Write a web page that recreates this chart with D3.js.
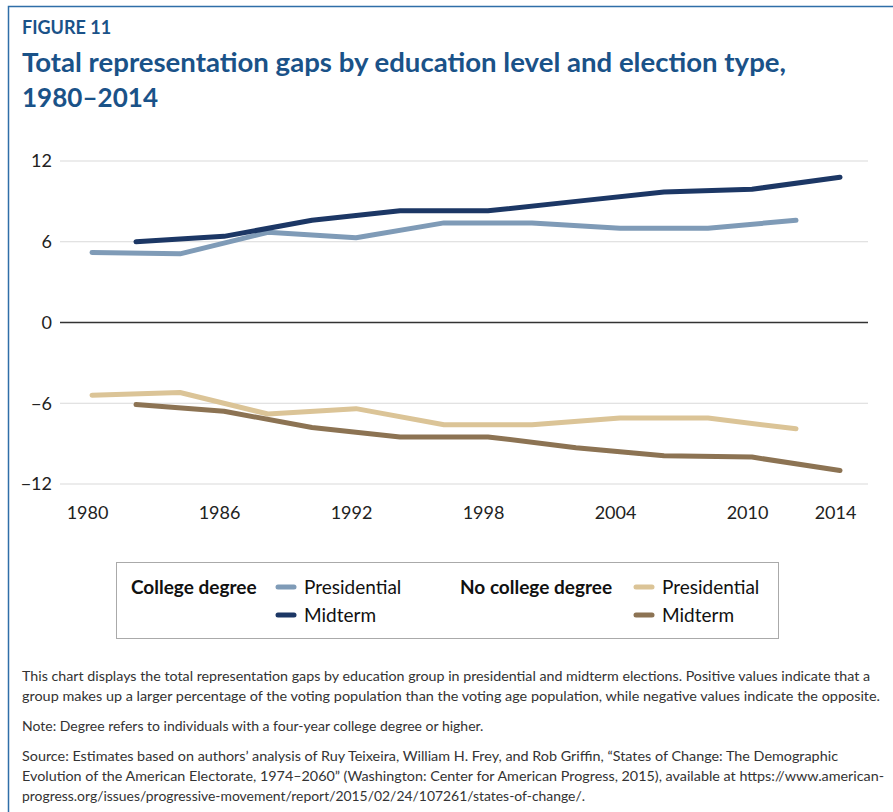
<!DOCTYPE html>
<html><head><meta charset="utf-8">
<script src="https://cdn.jsdelivr.net/npm/d3@7"></script>
<style>
body{margin:0;background:#fff;}
svg{display:block;font-family:Lato,"Open Sans",sans-serif;}
</style></head>
<body>
<svg id="chart" width="893" height="812"></svg>
<script>
const presYears = [1980,1984,1988,1992,1996,2000,2004,2008,2012];
const midYears  = [1982,1986,1990,1994,1998,2002,2006,2010,2014];
const collegePres = [5.2,5.1,6.7,6.3,7.4,7.4,7.0,7.0,7.6];
const collegeMid  = [6.0,6.4,7.6,8.3,8.3,9.0,9.7,9.9,10.8];
const noCollegePres = [-5.4,-5.2,-6.8,-6.4,-7.6,-7.6,-7.1,-7.1,-7.9];
const noCollegeMid  = [-6.1,-6.6,-7.8,-8.5,-8.5,-9.3,-9.9,-10.0,-11.0];
const xTicks = [1980,1986,1992,1998,2004,2010,2014];
const yTicks = [-12,-6,0,6,12];

const titleColor = "#1a5288";
const svg = d3.select("#chart");

// frame
svg.append("path").attr("d","M8.5,812 V6.5 H893").attr("fill","none")
  .attr("stroke","#2f6ea8").attr("stroke-width",1.5);

svg.append("text").attr("x",22).attr("y",34).text("FIGURE 11")
  .attr("fill",titleColor).attr("font-weight",700).attr("font-size",18);
svg.append("text").attr("x",22).attr("y",72).text("Total representation gaps by education level and election type,")
  .attr("fill",titleColor).attr("font-weight",700).attr("font-size",27)
  .attr("textLength",764).attr("lengthAdjust","spacingAndGlyphs");
svg.append("text").attr("x",22).attr("y",107).text("1980–2014")
  .attr("fill",titleColor).attr("font-weight",700).attr("font-size",27)
  .attr("textLength",136).attr("lengthAdjust","spacingAndGlyphs");

const x = d3.scaleLinear().domain([1980,2014]).range([92,840]);
const y = d3.scaleLinear().domain([-12,12]).range([484,161]);
const plotL = 60, plotR = 868;

// y axis labels
const yAxis = d3.axisLeft(y).tickValues(yTicks).tickSize(0).tickPadding(10).tickFormat(d3.format("d"));
const gy = svg.append("g").attr("transform",`translate(${plotL},0)`).call(yAxis);
gy.select(".domain").remove();
gy.selectAll("text").attr("font-size",18).attr("fill","#222").attr("font-family","Lato,sans-serif")
  .attr("text-anchor","end").attr("x",-8);
// gridlines
svg.append("g").selectAll("line").data(yTicks).join("line")
  .attr("x1",plotL).attr("x2",plotR).attr("y1",d=>y(d)).attr("y2",d=>y(d))
  .attr("stroke",d=>d===0?"#333":"#d9d9d9").attr("stroke-width",d=>d===0?1.3:1.2);

// x axis labels
const xAxis = d3.axisBottom(x).tickValues(xTicks).tickSize(0).tickPadding(0).tickFormat(d3.format("d"));
const gx = svg.append("g").attr("transform","translate(-5,506)").call(xAxis);
gx.select(".domain").remove();
gx.selectAll("text").attr("font-size",18).attr("fill","#222").attr("font-family","Lato,sans-serif");

const series = [
  {years:presYears, vals:collegePres, color:"#7f9bb7"},
  {years:midYears, vals:collegeMid, color:"#1c3765"},
  {years:presYears, vals:noCollegePres, color:"#dbc497"},
  {years:midYears, vals:noCollegeMid, color:"#8c7353"}
];
const line = d3.line().x(d=>x(d[0])).y(d=>y(d[1]));
svg.append("g").selectAll("path").data(series).join("path")
  .attr("d",s=>line(s.years.map((yr,i)=>[yr,s.vals[i]])))
  .attr("fill","none").attr("stroke",s=>s.color).attr("stroke-width",5)
  .attr("stroke-linecap","round").attr("stroke-linejoin","round");

// legend
const lg = svg.append("g");
lg.append("rect").attr("x",116.5).attr("y",562.5).attr("width",662).attr("height",76)
  .attr("fill","#fff").attr("stroke","#aaa").attr("stroke-width",1);
const legItems = [
  {head:"College degree", hx:131, sx:278, items:[["Presidential","#7f9bb7"],["Midterm","#1c3765"]]},
  {head:"No college degree", hx:460, sx:636, items:[["Presidential","#dbc497"],["Midterm","#8c7353"]]}
];
legItems.forEach(g=>{
  lg.append("text").attr("x",g.hx).attr("y",594).text(g.head)
    .attr("font-weight",700).attr("font-size",19).attr("fill","#111");
  g.items.forEach((it,i)=>{
    const yy = 587 + i*28;
    lg.append("line").attr("x1",g.sx).attr("x2",g.sx+16).attr("y1",yy).attr("y2",yy)
      .attr("stroke",it[1]).attr("stroke-width",5).attr("stroke-linecap","round");
    lg.append("text").attr("x",g.sx+26).attr("y",yy+7).text(it[0])
      .attr("font-size",19).attr("fill","#111");
  });
});

// footer
const foot = [
  ["This chart displays the total representation gaps by education group in presidential and midterm elections. Positive values indicate that a",681,848],
  ["group makes up a larger percentage of the voting population than the voting age population, while negative values indicate the opposite.",701,858],
  ["Note: Degree refers to individuals with a four-year college degree or higher.",731,null],
  ["Source: Estimates based on authors’ analysis of Ruy Teixeira, William H. Frey, and Rob Griffin, “States of Change: The Demographic",761,816],
  ["Evolution of the American Electorate, 1974–2060” (Washington: Center for American Progress, 2015), available at https://www.american-",781,862],
  ["progress.org/issues/progressive-movement/report/2015/02/24/107261/states-of-change/.",801,563]
];
const ft = svg.append("g").selectAll("text").data(foot).join("text")
  .attr("x",22).attr("y",d=>d[1]).text(d=>d[0])
  .attr("font-size",14).attr("fill","#333");
ft.filter(d=>d[2]).attr("textLength",d=>d[2]).attr("lengthAdjust","spacingAndGlyphs");
</script>
</body></html>
